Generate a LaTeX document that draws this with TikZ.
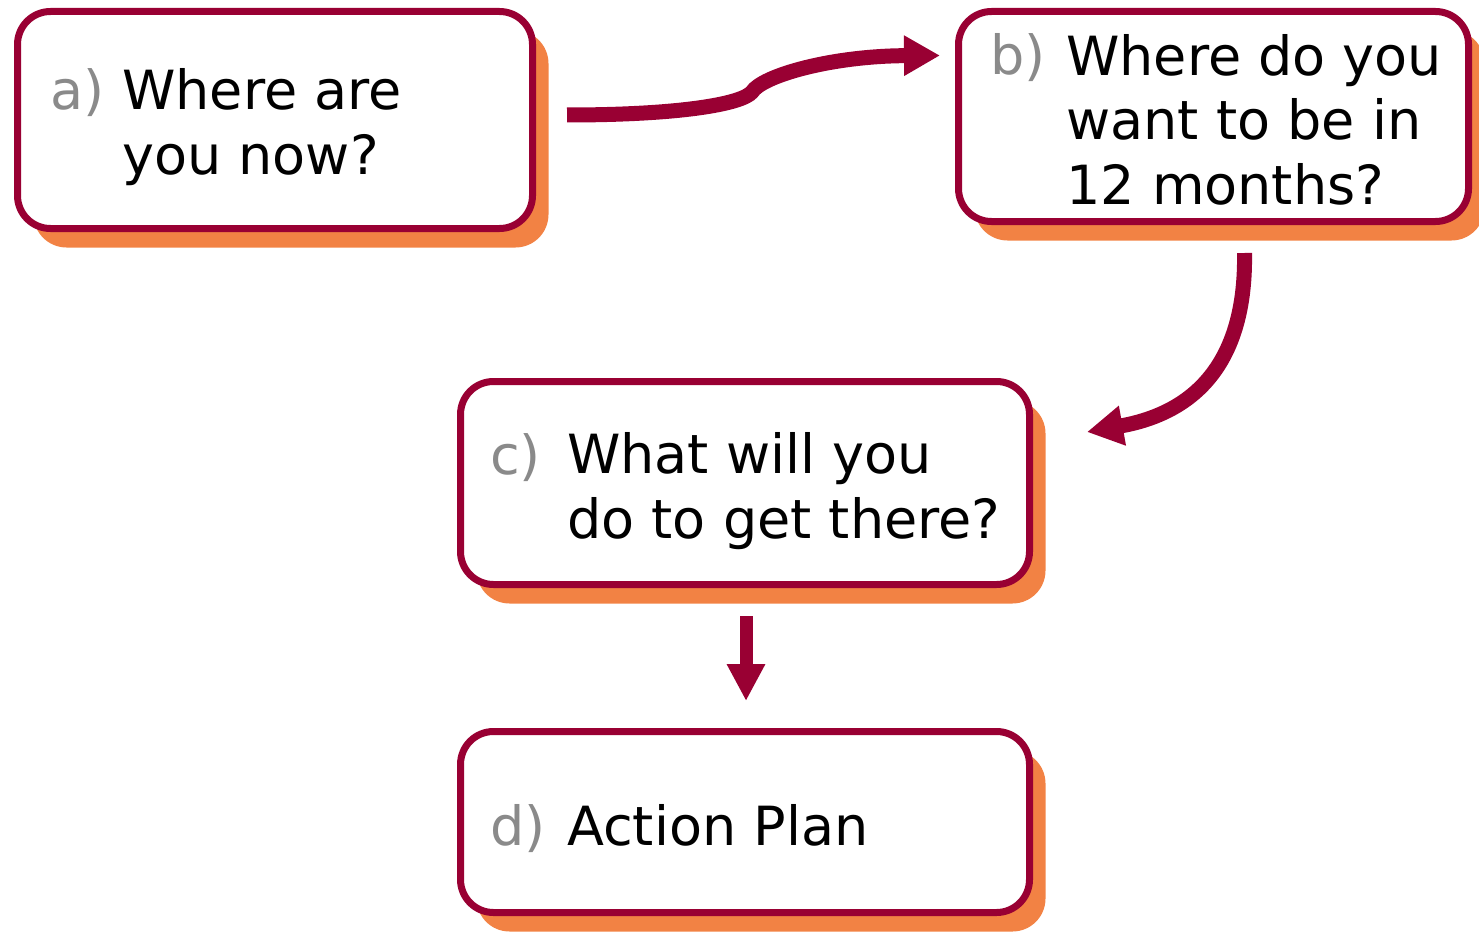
\documentclass[tikz,border=0pt]{standalone}
\usepackage{fontspec}
\setmainfont{DejaVu Sans}
\usetikzlibrary{arrows.meta,shadows,calc}
\definecolor{crimson}{RGB}{153,0,51}
\definecolor{shade}{RGB}{242,130,68}
\definecolor{labelgray}{RGB}{138,138,138}

\begin{document}
\begin{tikzpicture}[x=1pt,y=-1pt,
  stage/.style={draw=crimson, line width=7pt, fill=white, rounded corners=33pt,
    inner sep=0pt,
    drop shadow={shadow xshift=16pt, shadow yshift=-19pt, fill=shade, opacity=1}},
  bigtext/.style={inner sep=0pt, font=\fontsize{54}{64.5}\selectfont},
  tag/.style={bigtext, anchor=base west, text=labelgray},
  words/.style={bigtext, anchor=base west, align=left},
  conn/.style={draw=crimson, line width=15pt, -{Triangle[length=36pt,width=38pt]}}]

\useasboundingbox (0,0) rectangle (1479,931);

% stage boxes
\node[stage, minimum width=515pt, minimum height=217pt] (a) at (275,120) {};
\node[stage, minimum width=510pt, minimum height=210pt] (b) at (1213.5,116.5) {};
\node[stage, minimum width=569pt, minimum height=203pt] (c) at (745,483) {};
\node[stage, minimum width=569pt, minimum height=181pt] (d) at (745,822) {};

% labels and questions (a multi-line node sits on its last baseline)
\node[tag] (la) at (50,110) {a)};
\node[words] (ta) at (122,174) {Where are\\you now?};
\node[tag] (lb) at (990,75) {b)};
\node[words] (tb) at (1066,204) {Where do you\\want to be in\\12 months?};
\node[tag] (lc) at (490,474) {c)};
\node[words] (tc) at (567,538) {What will you\\do to get there?};
\node[tag] (ld) at (490,845) {d)};
\node[words] (td) at (567,845) {Action Plan};

% connectors
\draw[conn] ([shift={(31,-5)}]a.east)
  .. controls (680,115) and (742,104) .. (752,92)
  .. controls (762,76) and (830,56) .. ([shift={(-15,-61)}]b.west);
\draw[conn] ([shift={(31,28)}]b.south)
  .. controls (1246,345) and (1210,410) .. ([shift={(54,54)}]c.north east);
\draw[conn, line width=13pt, -{Triangle[length=37pt,width=36pt]}]
  ([shift={(1,28)}]c.south) -- ([shift={(1,-27)}]d.north);
\end{tikzpicture}
\end{document}
